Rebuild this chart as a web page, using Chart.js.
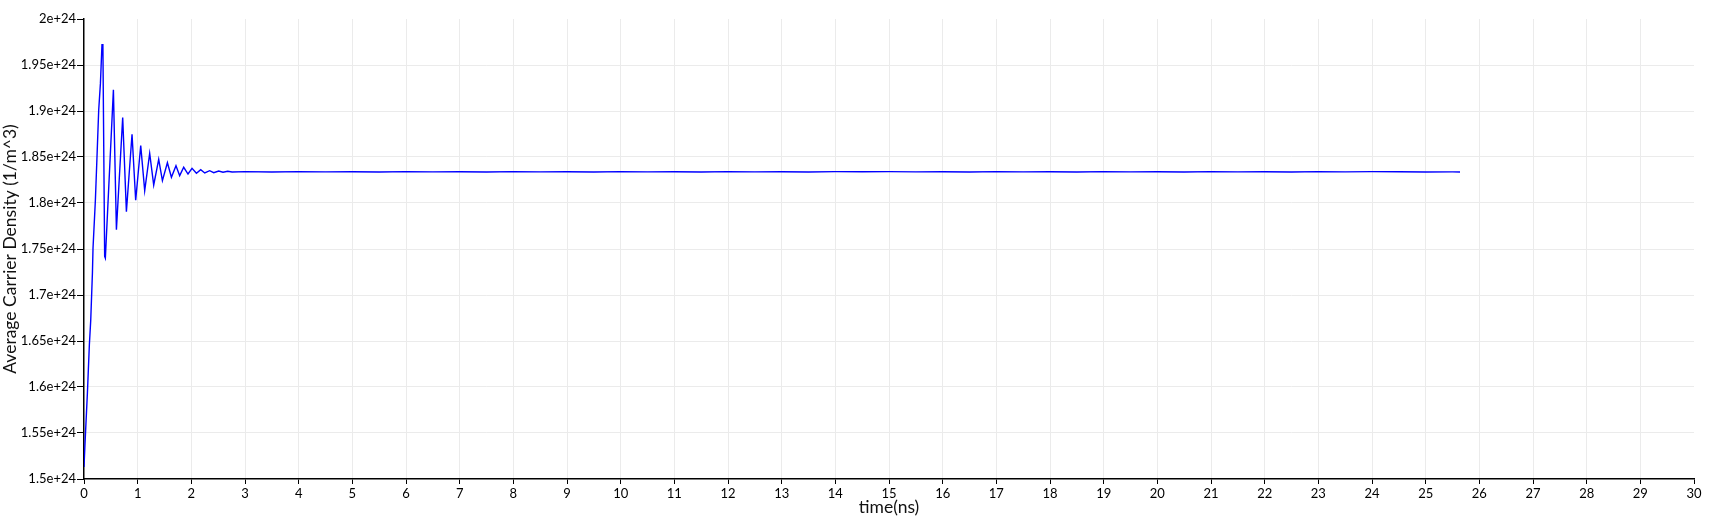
<!DOCTYPE html>
<html>
<head>
<meta charset="utf-8">
<script src="https://cdn.jsdelivr.net/npm/chart.js@4.4.1/dist/chart.umd.min.js"></script>
<style>
  html, body { margin: 0; padding: 0; background: #fff; }
  #wrap { width: 1714px; height: 522px; }
</style>
</head>
<body>
<div id="wrap"><canvas id="grafico-densidade"></canvas></div>
<script>
// tempo em ns, densidade em unidades de 1e24 1/m^3
const transientTime = [0, 0.019, 0.063, 0.100, 0.125, 0.157, 0.168, 0.212, 0.242, 0.274, 0.306, 0.335, 0.352,
  0.385, 0.398, 0.548, 0.604, 0.721, 0.790, 0.895, 0.963, 1.057, 1.131, 1.224, 1.299, 1.392, 1.461,
  1.554, 1.629, 1.714, 1.783, 1.858, 1.938, 2.013, 2.095, 2.175, 2.250, 2.342, 2.417, 2.510, 2.590, 2.678, 2.760];
const transientDensity = [1.513, 1.539, 1.593, 1.646, 1.672, 1.724, 1.751, 1.803, 1.850, 1.901, 1.930, 1.972, 1.972,
  1.742, 1.740, 1.923, 1.771, 1.893, 1.7905, 1.8747, 1.803, 1.8623, 1.8134, 1.854, 1.8196, 1.8475, 1.8243,
  1.8438, 1.828, 1.8406, 1.8297, 1.8388, 1.8315, 1.8377, 1.8323, 1.8362, 1.8326, 1.8351, 1.833, 1.8348, 1.8334, 1.8345, 1.8337];

const steadyTime = [3.0, 3.5, 4.0, 4.5, 5.0, 5.5, 6.0, 6.5, 7.0, 7.5, 8.0, 8.5, 9.0, 9.5, 10.0, 10.5, 11.0, 11.5,
  12.0, 12.5, 13.0, 13.5, 14.0, 14.5, 15.0, 15.5, 16.0, 16.5, 17.0, 17.5, 18.0, 18.5, 19.0, 19.5, 20.0, 20.5,
  21.0, 21.5, 22.0, 22.5, 23.0, 23.5, 24.0, 24.5, 25.0, 25.5, 25.64];
const steadyDensity = [1.8341, 1.8337, 1.8341, 1.8338, 1.8340, 1.8337, 1.8341, 1.8338, 1.8340, 1.8337, 1.8341, 1.8338,
  1.8340, 1.8337, 1.8341, 1.8338, 1.8340, 1.8337, 1.8341, 1.8338, 1.8340, 1.8337, 1.8341, 1.8340, 1.8341, 1.8338,
  1.8340, 1.8337, 1.8341, 1.8338, 1.8340, 1.8337, 1.8341, 1.8338, 1.8340, 1.8337, 1.8341, 1.8338, 1.8340, 1.8337,
  1.8341, 1.8338, 1.8341, 1.8340, 1.8337, 1.8338, 1.8337];

const xTitle = 'time(ns)';
const yTitle = 'Average Carrier Density (1/m^3)';
const fonte = 'Lato, "DejaVu Sans", sans-serif';

const pontos = transientTime.map((t, i) => ({ x: t, y: transientDensity[i] }))
  .concat(steadyTime.map((t, i) => ({ x: t, y: steadyDensity[i] })));

const ctx = document.getElementById('grafico-densidade');

new Chart(ctx, {
  type: 'line',
  data: {
    datasets: [{
      data: pontos,
      borderColor: '#0000ff',
      borderWidth: 1.4,
      pointRadius: 0,
      tension: 0,
      fill: false
    }]
  },
  options: {
    responsive: true,
    maintainAspectRatio: false,
    animation: false,
    layout: { padding: { top: 19, right: 20, left: 0, bottom: 0 } },
    plugins: { legend: { display: false }, tooltip: { enabled: false } },
    scales: {
      x: {
        type: 'linear',
        min: 0,
        max: 30,
        ticks: { stepSize: 1, autoSkip: false, maxRotation: 0, color: '#000', padding: 2, font: { family: fonte, size: 13 } },
        grid: {
          color: c => c.tick && (c.tick.value === 0 || c.tick.value === 30) ? 'rgba(0,0,0,0)' : '#ebebeb',
          tickColor: '#000',
          tickLength: 5
        },
        border: { color: '#000', width: 1.5 },
        title: { display: true, text: xTitle, color: '#111', font: { family: fonte, size: 17.5 }, padding: { top: 0, bottom: 4 } },
        afterFit: s => { s.height = 43; }
      },
      y: {
        min: 1.5,
        max: 2,
        ticks: {
          stepSize: 0.05,
          color: '#000',
          padding: 1,
          font: { family: fonte, size: 13 },
          callback: v => Number(v.toFixed(2)) + 'e+24'
        },
        grid: {
          color: c => c.tick && (c.tick.value > 1.999 || c.tick.value < 1.501) ? 'rgba(0,0,0,0)' : '#ebebeb',
          tickColor: '#000',
          tickLength: 7
        },
        border: { color: '#000', width: 1.5 },
        title: { display: true, text: yTitle, color: '#111', font: { family: fonte, size: 17.5 }, padding: { top: 0, bottom: 0 } },
        afterFit: s => { s.width = 84; }
      }
    }
  }
});
</script>
</body>
</html>
